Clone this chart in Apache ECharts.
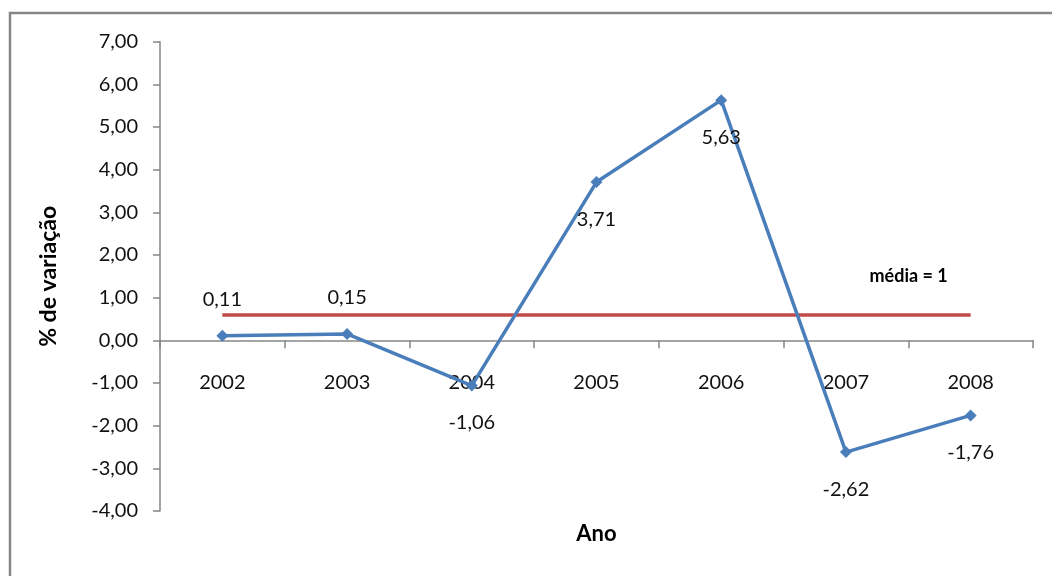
<!DOCTYPE html>
<html>
<head>
<meta charset="utf-8">
<script src="https://cdn.jsdelivr.net/npm/echarts@6/dist/echarts.min.js"></script>
<style>
  html, body { margin: 0; padding: 0; background: #fff; }
  #chart { width: 1052px; height: 576px; }
</style>
</head>
<body>
<div id="chart"></div>
<script>
// Variação percentual anual, 2002–2008
const anos = ['2002', '2003', '2004', '2005', '2006', '2007', '2008'];
const variacao = [0.11, 0.15, -1.06, 3.71, 5.63, -2.62, -1.76];
const labelPos = ['top', 'top', 'bottom', 'bottom', 'bottom', 'bottom', 'bottom'];
const mediaTexto = 'média = 1';

// média dos valores anuais
const media = variacao.reduce((s, v) => s + v, 0) / variacao.length;
const mediaSerie = anos.map(() => media);

const fmt = v => v.toFixed(2).replace('.', ',');
const FONT = 'Lato';
const AXIS = '#868686';

const chart = echarts.init(document.getElementById('chart'), null, { renderer: 'canvas' });
chart.setOption({
  animation: false,
  backgroundColor: '#fff',
  textStyle: { fontFamily: FONT },
  graphic: [{
    type: 'rect',
    shape: { x: 10, y: 13, width: 1100, height: 700 },
    style: { fill: 'none', stroke: AXIS, lineWidth: 2.5 },
    silent: true, z: 0
  }],
  grid: { left: 160, right: 19, top: 41.7, bottom: 65, outerBoundsMode: 'none', containLabel: false },
  xAxis: {
    type: 'category',
    data: anos,
    boundaryGap: true,
    name: 'Ano',
    nameLocation: 'middle',
    nameGap: 12,
    nameTextStyle: { fontFamily: FONT, fontSize: 22, fontWeight: 'bold', color: '#000' },
    axisLine: { onZero: true, lineStyle: { color: AXIS, width: 1.5 } },
    axisTick: { show: true, interval: 0, length: 8, lineStyle: { color: AXIS, width: 1.5 } },
    axisLabel: { interval: 0, margin: -138, fontFamily: FONT, fontSize: 20, color: '#111' },
    splitLine: { show: false }
  },
  yAxis: {
    type: 'value',
    min: -4, max: 7, interval: 1,
    name: '% de variação',
    nameLocation: 'middle',
    nameGap: 100,
    nameRotate: 90,
    nameTextStyle: { fontFamily: FONT, fontSize: 23, fontWeight: 'bold', color: '#000' },
    axisLine: { show: true, lineStyle: { color: AXIS, width: 1.5 } },
    axisTick: { show: true, length: 7, lineStyle: { color: AXIS, width: 1.5 } },
    axisLabel: { margin: 22, fontFamily: FONT, fontSize: 20, color: '#111', formatter: fmt },
    splitLine: { show: false }
  },
  series: [
    {
      name: 'média',
      type: 'line',
      data: mediaSerie.map((v, i) => i === anos.length - 1 ? {
        value: v,
        label: {
          show: true, position: 'top', offset: [-62, -24],
          formatter: mediaTexto,
          fontFamily: FONT, fontSize: 18, fontWeight: 'bold', color: '#000'
        }
      } : v),
      symbol: 'circle',
      symbolSize: 1,
      showSymbol: true,
      itemStyle: { color: 'rgba(0,0,0,0)' },
      lineStyle: { color: '#be4b48', width: 3.5 },
      z: 2
    },
    {
      name: 'variação',
      type: 'line',
      data: variacao.map((v, i) => ({
        value: v,
        label: { position: labelPos[i], distance: labelPos[i] === 'top' ? 20 : 21 }
      })),
      symbol: 'diamond',
      symbolSize: 12,
      itemStyle: { color: '#4a7ebb' },
      lineStyle: { color: '#4a7ebb', width: 3.5 },
      label: {
        show: true,
        formatter: p => fmt(p.value),
        fontFamily: FONT, fontSize: 20, color: '#111'
      },
      z: 3
    }
  ]
});
</script>
</body>
</html>
